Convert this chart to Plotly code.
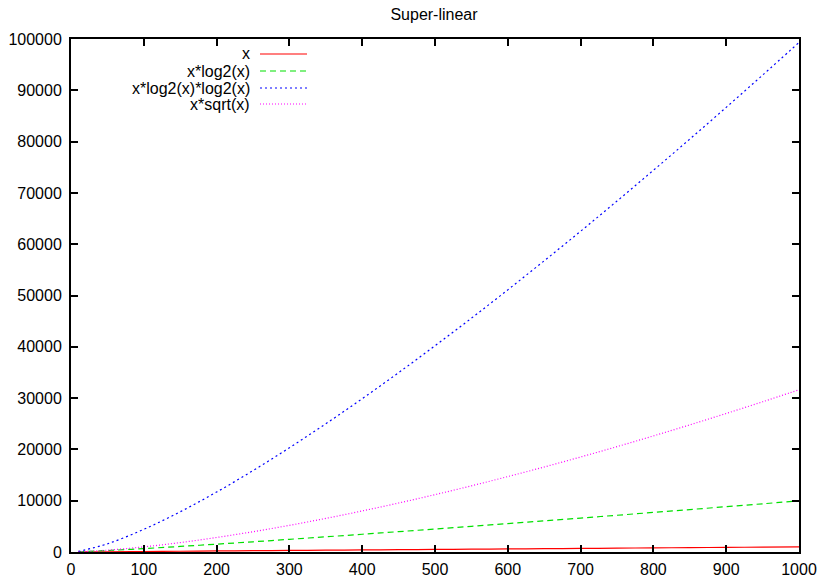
import plotly.graph_objects as go

# Data
xs = [10, 50, 100, 150, 200, 250, 300, 350, 400, 450, 500, 550, 600, 650, 700,
      750, 800, 850, 900, 950, 1000]
y_x = [10, 50, 100, 150, 200, 250, 300, 350, 400, 450, 500, 550, 600, 650, 700,
       750, 800, 850, 900, 950, 1000]
y_xlog = [33, 282, 664, 1084, 1529, 1991, 2469, 2958, 3458, 3966, 4483, 5007,
          5537, 6074, 6616, 7163, 7715, 8272, 8833, 9398, 9966]
y_xlog2 = [110, 1593, 4415, 7839, 11686, 15865, 20315, 24997, 29888, 34959,
           40195, 45573, 51102, 56765, 62524, 68415, 74408, 80487, 86679,
           92958, 99317]
y_xsqrt = [32, 354, 1000, 1837, 2828, 3953, 5196, 6548, 8000, 9546, 11180,
           12899, 14697, 16572, 18520, 20540, 22627, 24782, 27000, 29281, 31623]

names = ["x", "x*log2(x)", "x*log2(x)*log2(x)", "x*sqrt(x)"]
series = [y_x, y_xlog, y_xlog2, y_xsqrt]
colors = ["#ff0000", "#00e000", "#0000ff", "#ff00ff"]
dashes = ["solid", "6px,4px", "2px,3px", "1px,2px"]

fig = go.Figure()
for n, ys, c, d in zip(names, series, colors, dashes):
    fig.add_trace(go.Scatter(x=xs, y=ys, mode="lines", name=n,
                             line=dict(color=c, width=1.2, dash=d, shape="spline"),
                             showlegend=False))

W, H = 821, 577
L, R, T, B = 71, 22, 39, 25
pw, ph = W - L - R, H - T - B

def px2paper_x(px):
    return (px - L) / pw

def py2paper_y(py):
    return 1 - (py - T) / ph

FAM = "Liberation Sans, Arial, sans-serif"
font = dict(family=FAM, size=16, color="#000")

annotations = []
shapes = []
rows_y = [54, 71, 88, 104]
for n, c, d, ry in zip(names, colors, dashes, rows_y):
    annotations.append(dict(x=px2paper_x(252), y=py2paper_y(ry), xref="paper",
                            yref="paper", text=n, showarrow=False,
                            xanchor="right", yanchor="middle", font=font))
    shapes.append(dict(type="line", xref="paper", yref="paper",
                       x0=px2paper_x(260), x1=px2paper_x(307),
                       y0=py2paper_y(ry), y1=py2paper_y(ry),
                       line=dict(color=c, width=1.2, dash=d)))

axis_common = dict(showgrid=False, zeroline=False, showline=True, linecolor="#000",
                   linewidth=2, mirror="ticks", ticks="inside", ticklen=7,
                   tickwidth=2, tickcolor="#000", tickfont=font, automargin=False)

fig.update_layout(
    width=W, height=H,
    margin=dict(l=L, r=R, t=T, b=B),
    paper_bgcolor="#fff", plot_bgcolor="#fff",
    title=dict(text="Super-linear", x=434 / W,
               xanchor="center", y=1 - 14 / H, yanchor="middle",
               font=dict(family=FAM, size=16, color="#000")),
    xaxis=dict(range=[0, 1000], tickvals=list(range(0, 1001, 100)),
               ticklabelstandoff=2, **axis_common),
    yaxis=dict(range=[0, 100000], tickvals=list(range(0, 100001, 10000)),
               tickformat="d", ticklabelstandoff=4, **axis_common),
    annotations=annotations, shapes=shapes,
)

fig.write_html("out.html")
